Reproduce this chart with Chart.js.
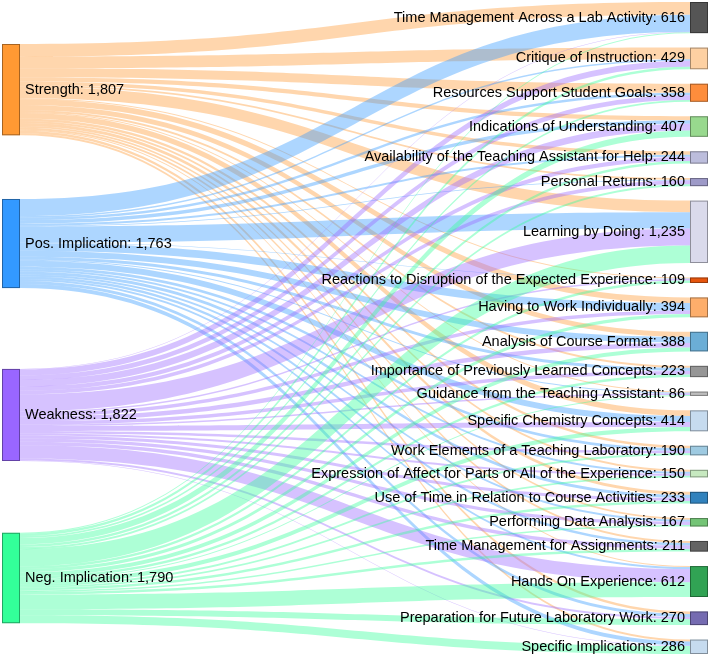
<!DOCTYPE html>
<html>
<head>
<meta charset="utf-8">
<script src="https://cdn.jsdelivr.net/npm/chart.js@4.4.1/dist/chart.umd.min.js"></script>
<style>
  html, body { margin: 0; padding: 0; background: #fff; }
  #wrap { width: 709px; height: 657px; position: relative; }
</style>
</head>
<body>
<div id="wrap"><canvas id="sankey"></canvas></div>
<script>
// source nodes (left column)
const sources = ['Strength', 'Pos. Implication', 'Weakness', 'Neg. Implication'];
const sourceColors = ['#ff9933', '#3399ff', '#9966ff', '#33ff99'];

// target nodes (right column), top to bottom
const targets = [
  'Time Management Across a Lab Activity',
  'Critique of Instruction',
  'Resources Support Student Goals',
  'Indications of Understanding',
  'Availability of the Teaching Assistant for Help',
  'Personal Returns',
  'Learning by Doing',
  'Reactions to Disruption of the Expected Experience',
  'Having to Work Individually',
  'Analysis of Course Format',
  'Importance of Previously Learned Concepts',
  'Guidance from the Teaching Assistant',
  'Specific Chemistry Concepts',
  'Work Elements of a Teaching Laboratory',
  'Expression of Affect for Parts or All of the Experience',
  'Use of Time in Relation to Course Activities',
  'Performing Data Analysis',
  'Time Management for Assignments',
  'Hands On Experience',
  'Preparation for Future Laboratory Work',
  'Specific Implications'
];
const targetColors = [
  '#555555', '#fdd0a2', '#fd8d3c', '#98d98e', '#bcbddc', '#9e9ac8', '#dadaeb',
  '#e6550d', '#fdae6b', '#6baed6', '#969696', '#bdbdbd', '#c6dbef', '#9ecae1',
  '#c7e9c0', '#3182bd', '#74c476', '#636363', '#31a354', '#756bb1', '#c6dbef'
];

// flow values, one entry per target (same order as targets)
const fromStrength = [250, 230, 180, 80, 70, 35, 230, 20, 110, 100, 40, 20, 110, 50, 40, 60, 32, 40, 20, 50, 40];
const fromPosImplication = [340, 30, 50, 70, 40, 13, 320, 10, 150, 120, 60, 20, 120, 50, 40, 60, 40, 50, 40, 60, 80];
const fromWeakness = [10, 120, 90, 130, 80, 72, 340, 30, 70, 90, 70, 26, 100, 50, 40, 60, 64, 70, 260, 40, 10];
const fromNegImplication = [16, 49, 38, 127, 54, 40, 345, 49, 64, 78, 53, 20, 84, 40, 30, 53, 31, 51, 292, 120, 156];

const flows = [fromStrength, fromPosImplication, fromWeakness, fromNegImplication];
const sourceTotals = flows.map(f => f.reduce((a, b) => a + b, 0));
const targetTotals = targets.map((t, j) => flows.reduce((a, f) => a + f[j], 0));

// layout (in value units)
const rightGap = 286;
const leftGaps = [1260, 1600, 1420];
const leftTop = 831;
const yMax = targetTotals.reduce((a, b) => a + b, 0) + rightGap * (targets.length - 1);
const nodeWidth = 18;

function alpha(hex, a) {
  const n = parseInt(hex.slice(1), 16);
  return `rgba(${n >> 16},${(n >> 8) & 255},${n & 255},${a})`;
}
const fmt = v => v.toLocaleString('en-US');

const sankeyPlugin = {
  id: 'sankey',
  beforeDatasetsDraw(chart) {
    const { ctx, scales: { x, y } } = chart;
    const xl = x.getPixelForValue(0);
    const xr = x.getPixelForValue(1);

    // node positions
    const srcY = [];
    let pos = leftTop;
    sourceTotals.forEach((v, i) => { srcY.push(pos); pos += v + (leftGaps[i] || 0); });
    const tgtY = [];
    pos = 0;
    targetTotals.forEach(v => { tgtY.push(pos); pos += v + rightGap; });

    // links
    const x0 = xl + nodeWidth, x1 = xr - nodeWidth, xm = (x0 + x1) / 2;
    const tOff = targets.map(() => 0);
    flows.forEach((f, i) => {
      let sOff = 0;
      ctx.fillStyle = alpha(sourceColors[i], 0.4);
      f.forEach((v, j) => {
        if (!v) return;
        const sTop = y.getPixelForValue(srcY[i] + sOff);
        const sBot = y.getPixelForValue(srcY[i] + sOff + v);
        const tTop = y.getPixelForValue(tgtY[j] + tOff[j]);
        const tBot = y.getPixelForValue(tgtY[j] + tOff[j] + v);
        ctx.beginPath();
        ctx.moveTo(x0, sTop);
        ctx.bezierCurveTo(xm, sTop, xm, tTop, x1, tTop);
        ctx.lineTo(x1, tBot);
        ctx.bezierCurveTo(xm, tBot, xm, sBot, x0, sBot);
        ctx.closePath();
        ctx.fill();
        sOff += v;
        tOff[j] += v;
      });
    });

    // nodes + labels
    ctx.font = '14.5px "Liberation Sans", Arial, sans-serif';
    ctx.textBaseline = 'middle';
    ctx.lineWidth = 1;
    ctx.strokeStyle = 'rgba(0,0,0,0.35)';
    sources.forEach((name, i) => {
      const top = y.getPixelForValue(srcY[i]);
      const bot = y.getPixelForValue(srcY[i] + sourceTotals[i]);
      ctx.fillStyle = sourceColors[i];
      ctx.fillRect(xl, top, nodeWidth, bot - top);
      ctx.strokeRect(xl + 0.5, top + 0.5, nodeWidth - 1, bot - top - 1);
      ctx.fillStyle = '#000';
      ctx.textAlign = 'left';
      ctx.fillText(`${name}: ${fmt(sourceTotals[i])}`, xl + nodeWidth + 5, (top + bot) / 2);
    });
    targets.forEach((name, j) => {
      const top = y.getPixelForValue(tgtY[j]);
      const bot = y.getPixelForValue(tgtY[j] + targetTotals[j]);
      ctx.fillStyle = targetColors[j];
      ctx.fillRect(xr - nodeWidth, top, nodeWidth, bot - top);
      ctx.strokeRect(xr - nodeWidth + 0.5, top + 0.5, nodeWidth - 1, bot - top - 1);
      ctx.fillStyle = '#000';
      ctx.textAlign = 'right';
      ctx.fillText(`${name}: ${fmt(targetTotals[j])}`, xr - nodeWidth - 5, (top + bot) / 2);
    });
  }
};

new Chart(document.getElementById('sankey'), {
  type: 'scatter',
  data: { datasets: [{ data: [] }] },
  options: {
    responsive: true,
    maintainAspectRatio: false,
    animation: false,
    layout: { padding: { left: 2, right: 1, top: 2, bottom: 3 } },
    plugins: { legend: { display: false }, tooltip: { enabled: false } },
    scales: {
      x: { type: 'linear', min: 0, max: 1, display: false },
      y: { type: 'linear', min: 0, max: yMax, reverse: true, display: false }
    }
  },
  plugins: [sankeyPlugin]
});
</script>
</body>
</html>
